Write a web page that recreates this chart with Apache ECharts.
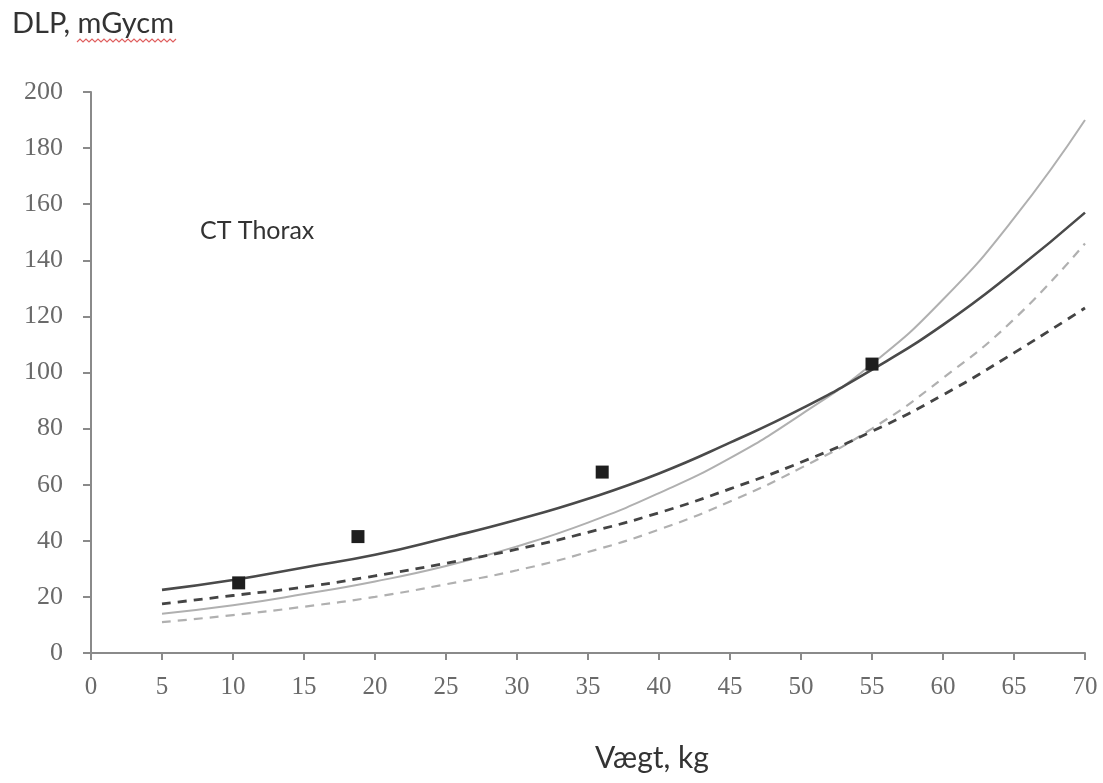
<!DOCTYPE html>
<html><head><meta charset="utf-8">
<script src="https://cdn.jsdelivr.net/npm/echarts@6/dist/echarts.min.js"></script>
<style>html,body{margin:0;padding:0;background:#fff}#c{width:1103px;height:783px}</style>
</head><body><div id="c"></div>
<script>
const weights = [5, 10, 15, 20, 25, 30, 35, 40, 45, 50, 55, 60, 65, 70];
const darkSolid = [22.5, 26, 30.5, 35, 41, 47.5, 55, 64, 75, 87, 101, 117, 136, 157];
const lightSolid = [14, 17, 21, 25.5, 31, 38, 46.5, 57, 69.5, 85, 103, 126, 155, 190];
const darkDashed = [17.5, 20.5, 23.5, 27.5, 32, 37, 43, 50, 58.5, 68, 79, 92, 107, 123];
const lightDashed = [11, 13.5, 16.5, 20, 24.5, 29.5, 36, 44, 54, 66, 80, 98, 119, 146];
const pointsX = [10.4, 18.8, 36, 55];
const pointsY = [25, 41.5, 64.5, 103];

const pair = (ys) => weights.map((x, i) => [x, ys[i]]);
const chart = echarts.init(document.getElementById('c'));
const serif = '"Liberation Serif", "DejaVu Serif", serif';
const sans = 'Lato, "Open Sans", sans-serif';
const wave = [];
for (let i = 0; i <= 33; i++) wave.push([77 + i * 3, i % 2 ? 39 : 42]);
chart.setOption({
  animation: false,
  backgroundColor: '#fff',
  grid: { left: 91, right: 18, top: 92, bottom: 130 },
  xAxis: {
    type: 'value', min: 0, max: 70, interval: 5,
    axisLine: { lineStyle: { color: '#8a8a8a', width: 2 } },
    axisTick: { show: true, length: 7, lineStyle: { color: '#8a8a8a', width: 2 } },
    axisLabel: { color: '#6a6a6a', fontFamily: serif, fontSize: 25, margin: 22 },
    splitLine: { show: false }
  },
  yAxis: {
    type: 'value', min: 0, max: 200, interval: 20,
    axisLine: { show: true, lineStyle: { color: '#8a8a8a', width: 2 } },
    axisTick: { show: true, length: 8, lineStyle: { color: '#8a8a8a', width: 2 } },
    axisLabel: { color: '#6a6a6a', fontFamily: serif, fontSize: 26, margin: 28 },
    splitLine: { show: false }
  },
  graphic: [
    { type: 'text', left: 12, top: 9, style: { text: 'DLP, mGycm', font: '29px ' + sans, fill: '#333' } },
    { type: 'polyline', shape: { points: wave }, style: { stroke: '#e06060', lineWidth: 1.2, fill: 'none' } },
    { type: 'text', left: 200, top: 218, style: { text: 'CT Thorax', font: '25px ' + sans, fill: '#333' } },
    { type: 'text', left: 595, top: 743, style: { text: 'Vægt, kg', font: '30px ' + sans, fill: '#333' } }
  ],
  series: [
    { type: 'line', data: pair(lightSolid), smooth: true, symbol: 'none', lineStyle: { color: '#b0b0b0', width: 2 } },
    { type: 'line', data: pair(lightDashed), smooth: true, symbol: 'none', lineStyle: { color: '#b0b0b0', width: 2.2, type: [9, 7] } },
    { type: 'line', data: pair(darkDashed), smooth: true, symbol: 'none', lineStyle: { color: '#444', width: 2.8, type: [9, 7] } },
    { type: 'line', data: pair(darkSolid), smooth: true, symbol: 'none', lineStyle: { color: '#4a4a4a', width: 2.6 } },
    { type: 'scatter', data: pointsX.map((x, i) => [x, pointsY[i]]), symbol: 'rect', symbolSize: 13, itemStyle: { color: '#1e1e1e', opacity: 1 }, z: 5 }
  ]
});
</script></body></html>
